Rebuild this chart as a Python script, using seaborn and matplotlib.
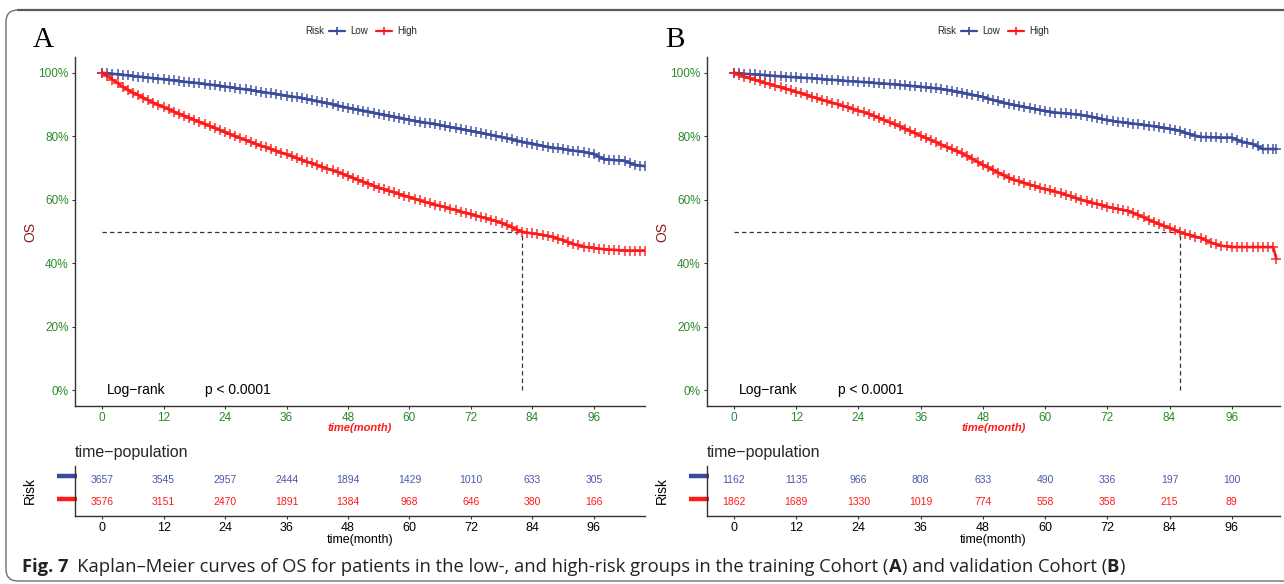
import matplotlib
matplotlib.use("Agg")
import matplotlib.pyplot as plt
import seaborn as sns
import pandas as pd
from matplotlib.patches import FancyBboxPatch

# ---------------------------------------------------------------- data
# Kaplan-Meier estimates (OS, %) at the listed follow-up times (months)
time_a = [0, 2, 4, 6, 8, 10, 12, 14, 16, 18, 20, 22, 24, 26, 28, 30, 32, 34,
          36, 38, 40, 42, 44, 46, 48, 50, 52, 54, 56, 58, 60, 62, 64, 66, 68,
          70, 72, 74, 76, 78, 80, 82, 84, 86, 88, 90, 92, 94, 96, 98, 100,
          102, 104, 106]
low_a = [100.0, 99.7, 99.4, 99.0, 98.7, 98.3, 98.0, 97.6, 97.2, 96.9, 96.5,
         96.1, 95.7, 95.2, 94.8, 94.3, 93.8, 93.3, 92.8, 92.3, 91.7, 91.0,
         90.4, 89.7, 89.0, 88.4, 87.8, 87.1, 86.5, 85.9, 85.2, 84.6, 84.1,
         83.5, 82.9, 82.3, 81.7, 81.1, 80.4, 79.7, 79.0, 78.3, 77.7, 77.0,
         76.4, 76.0, 75.5, 75.1, 74.4, 72.8, 72.5, 72.3, 71.0, 70.6]
high_a = [100.0, 97.9, 95.6, 93.8, 92.2, 90.6, 89.2, 87.8, 86.5, 85.2, 83.9,
          82.6, 81.3, 80.0, 78.8, 77.6, 76.5, 75.4, 74.3, 73.1, 72.0, 70.9,
          69.8, 68.7, 67.5, 66.3, 65.1, 63.8, 62.8, 61.8, 60.8, 59.8, 58.9,
          58.1, 57.2, 56.3, 55.4, 54.6, 53.7, 52.7, 51.3, 49.9, 49.4, 48.9,
          48.3, 47.2, 46.0, 45.2, 44.8, 44.4, 44.2, 44.0, 44.0, 44.0]

time_b = [0, 2, 4, 6, 8, 10, 12, 14, 16, 18, 20, 22, 24, 26, 28, 30, 32, 34,
          36, 38, 40, 42, 44, 46, 48, 50, 52, 54, 56, 58, 60, 62, 64, 66, 68,
          70, 72, 74, 76, 78, 80, 82, 84, 86, 88, 90, 92, 94, 96, 98, 100,
          102, 104, 104.6]
low_b = [100.0, 99.7, 99.5, 99.3, 99.0, 98.8, 98.6, 98.4, 98.2, 97.9, 97.7,
         97.4, 97.2, 97.0, 96.7, 96.5, 96.2, 95.9, 95.6, 95.3, 94.9, 94.4,
         93.8, 93.1, 92.4, 91.4, 90.6, 89.9, 89.3, 88.6, 88.0, 87.5, 87.2,
         86.9, 86.5, 85.8, 85.1, 84.6, 84.2, 83.8, 83.4, 82.9, 82.4, 81.8,
         80.6, 79.8, 79.7, 79.6, 79.6, 78.3, 77.6, 76.0, 76.0, 76.0]
high_b = [100.0, 98.8, 97.8, 96.8, 95.9, 95.0, 94.0, 93.0, 92.0, 91.0, 90.1,
          89.1, 88.1, 87.1, 85.8, 84.4, 83.1, 81.7, 80.2, 78.8, 77.4, 76.0,
          74.6, 72.9, 71.0, 69.4, 67.7, 66.3, 65.3, 64.3, 63.3, 62.6, 61.6,
          60.5, 59.5, 58.7, 57.8, 57.1, 56.5, 55.2, 53.7, 52.3, 51.1, 49.8,
          48.8, 48.0, 46.5, 45.5, 45.1, 45.1, 45.1, 45.1, 45.1, 41.3]

# numbers at risk
risk_times = [0, 12, 24, 36, 48, 60, 72, 84, 96]
risk_low_a = [3657, 3545, 2957, 2444, 1894, 1429, 1010, 633, 305]
risk_high_a = [3576, 3151, 2470, 1891, 1384, 968, 646, 380, 166]
risk_low_b = [1162, 1135, 966, 808, 633, 490, 336, 197, 100]
risk_high_b = [1862, 1689, 1330, 1019, 774, 558, 358, 215, 89]

groups = ["Low", "High"]
y_ticks = [0, 20, 40, 60, 80, 100]
y_labels = ["0%", "20%", "40%", "60%", "80%", "100%"]

# ---------------------------------------------------------------- style
BLUE = "#3A4A9C"
BLUE_TXT = "#4A58AA"
RED = "#FF1A1A"
GREEN = "#2A8A2A"
DARKRED = "#8B1A1A"
INK = "#333333"

sns.set_theme(style="ticks")
plt.rcParams["font.family"] = ["Liberation Sans", "DejaVu Sans"]

W, H = 1284, 584
fig = plt.figure(figsize=(W / 100, H / 100), dpi=100)

# full-figure layer in pixel units for frame, legends and caption
bg = fig.add_axes([0, 0, 1, 1])
bg.set_xlim(0, W)
bg.set_ylim(H, 0)
bg.axis("off")


def px_axes(l, t, r, b):
    return fig.add_axes([l / W, 1 - b / H, (r - l) / W, (b - t) / H])


def style_axis(ax, tick_color):
    for side in ("top", "right"):
        ax.spines[side].set_visible(False)
    for side in ("left", "bottom"):
        ax.spines[side].set_color(INK)
        ax.spines[side].set_linewidth(1.0)
    ax.tick_params(axis="both", direction="out", length=2.5, width=0.8,
                   color=INK, pad=2)
    ax.tick_params(axis="both", labelsize=8.5, labelcolor=tick_color)
    ax.set_facecolor("none")
    ax.grid(False)


def draw_panel(cfg, t, low, high, n_low, n_high):
    l, r = cfg["left"], cfg["right"]
    wpx = r - l
    ax = px_axes(l, 57, r, 406)
    df = pd.DataFrame({
        "time": t + t,
        "surv": low + high,
        "Risk": [groups[0]] * len(t) + [groups[1]] * len(t),
    })
    sns.lineplot(data=df, x="time", y="surv", hue="Risk",
                 palette={"Low": BLUE, "High": RED},
                 estimator=None, sort=False, legend=False, linewidth=1.9,
                 ax=ax, zorder=2)
    # censoring ticks along each curve
    for s, c in ((low, BLUE), (high, RED)):
        mt, ms = [], []
        for i in range(len(t)):
            mt.append(t[i])
            ms.append(s[i])
            if i + 1 < len(t) and t[i + 1] - t[i] > 1.5:
                mt.append(t[i] + 1)
                ms.append((s[i] + s[i + 1]) / 2)
        ax.plot(mt, ms, ls="none", marker="+", ms=6.5, mew=1.2, color=c,
                alpha=0.85, zorder=3)
    # median survival of the high-risk group
    med = next(tt for tt, s in zip(t, high) if s <= 50)
    ax.plot([0, med], [50, 50], ls=(0, (3.5, 2.5)), color=INK, lw=0.9,
            zorder=1)
    ax.plot([med, med], [0, 50], ls=(0, (3.5, 2.5)), color=INK, lw=0.9,
            zorder=1)

    ax.set_xlim(*cfg["xlim"])
    ax.set_ylim(-5, 105)
    ax.set_xticks(risk_times)
    ax.set_yticks(y_ticks)
    ax.set_yticklabels(y_labels)
    style_axis(ax, GREEN)
    ax.set_xlabel("time(month)", color=RED, fontsize=8, fontweight="bold",
                  fontstyle="italic")
    ax.xaxis.set_label_coords(0.5, -0.048)
    ax.set_ylabel("OS", color=DARKRED, fontsize=10)
    ax.yaxis.set_label_coords(-38 / wpx, 0.5)
    ax.text(1.0, 0, "Log\u2212rank", fontsize=10, color="black",
            va="center", ha="left")
    ax.text(20.0, 0, "p < 0.0001", fontsize=10, color="black",
            va="center", ha="left")

    # numbers-at-risk table
    tb = px_axes(l, 466, r, 516)
    tb.set_xlim(*cfg["xlim"])
    tb.set_ylim(0.4, 2.6)
    for tt, a, b in zip(risk_times, n_low, n_high):
        tb.text(tt, 2, str(a), color=BLUE_TXT, ha="center", va="center",
                fontsize=7.5)
        tb.text(tt, 1, str(b), color=RED, ha="center", va="center",
                fontsize=7.5)
    tb.set_xticks(risk_times)
    tb.set_yticks([1, 2])
    tb.set_yticklabels(["", ""])
    style_axis(tb, "black")
    tb.tick_params(axis="y", length=0)
    tb.tick_params(axis="x", labelsize=9)
    tf = tb.get_yaxis_transform()
    x0 = -18 / wpx
    tb.plot([x0, 0.004], [2.15, 2.15], color=BLUE, lw=3.2,
            transform=tf, clip_on=False, solid_capstyle="butt")
    tb.plot([x0, 0.004], [1.15, 1.15], color=RED, lw=3.2,
            transform=tf, clip_on=False, solid_capstyle="butt")
    tb.set_xlabel("time(month)", fontsize=9, color="black")
    tb.xaxis.set_label_coords(0.5, -0.37)
    tb.set_ylabel("Risk", fontsize=10, color="black")
    tb.yaxis.set_label_coords(-38 / wpx, 0.5)

    # header: panel letter, legend, table title
    bg.text(cfg["letter_x"], 40, cfg["letter"], family="Liberation Serif",
            fontsize=21, va="center", ha="left", color="black")
    lx = cfg["legend_x"]
    bg.text(lx, 31, "Risk", fontsize=7, va="center", ha="left")
    for off, c, name in ((24, BLUE, "Low"), (71, RED, "High")):
        bg.plot([lx + off, lx + off + 16], [31, 31], color=c, lw=1.6)
        bg.plot([lx + off + 8], [31], marker="+", ms=6, mew=1.2, color=c)
        bg.text(lx + off + 21, 31, name, fontsize=7, va="center", ha="left")
    bg.text(l, 452, "time\u2212population", fontsize=11.5, va="center",
            ha="left")


panels = [
    dict(left=75, right=645, xlim=(-5.3, 106.0), letter="A", letter_x=33,
         legend_x=305),
    dict(left=707, right=1280, xlim=(-5.2, 105.3), letter="B", letter_x=665,
         legend_x=937),
]
draw_panel(panels[0], time_a, low_a, high_a, risk_low_a, risk_high_a)
draw_panel(panels[1], time_b, low_b, high_b, risk_low_b, risk_high_b)

# rounded frame of the figure box
bg.add_patch(FancyBboxPatch((6, 10), 1320, 571,
                            boxstyle="round,pad=0,rounding_size=12",
                            fill=False, ec="#6E6E6E", lw=1.0))
bg.plot([18, W], [10, 10], color="#5A5A5A", lw=1.6)

# caption, set as consecutive runs of bold and regular text
fig.canvas.draw()
renderer = fig.canvas.get_renderer()
runs = [("Fig.\u00a07", "bold"),
        ("\u2002Kaplan\u2013Meier curves of OS for patients in the low-, and "
         "high-risk groups in the training Cohort (", "normal"),
        ("A", "bold"), (") and validation Cohort (", "normal"),
        ("B", "bold"), (")", "normal")]
cx = 22
for txt, wt in runs:
    tt = bg.text(cx, 567, txt, fontsize=13.2, fontweight=wt, va="center",
                 ha="left", family=["Open Sans", "DejaVu Sans"],
                 color="#222222")
    cx += tt.get_window_extent(renderer).width

fig.savefig("out.png", dpi=100)
